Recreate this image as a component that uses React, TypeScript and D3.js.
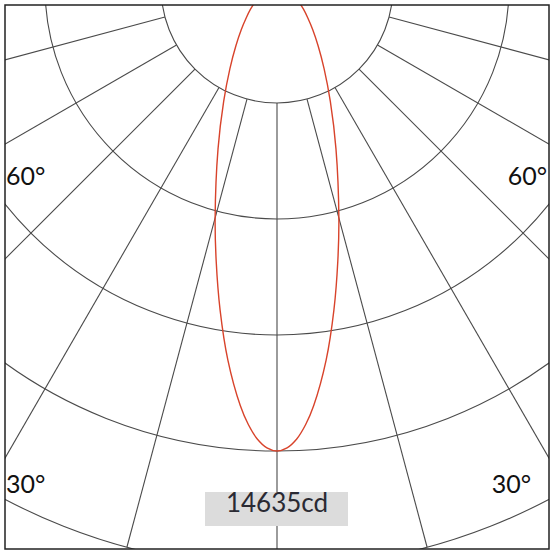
import React, { useEffect, useRef } from 'react';
import * as d3 from 'd3';

// luminous intensity (cd), symmetric about 0°
const angles = [0, 1.25, 2.5, 3.75, 5, 7.5, 10, 12.5, 15, 20, 25, 30, 35, 40, 45, 50, 55, 60, 65, 70, 75, 80, 85, 90];
const intensity = [14635, 14540, 14270, 13830, 13260, 11870, 10340, 8860, 7540, 5440, 3980, 2970, 2260, 1750, 1370, 1090, 860, 680, 530, 400, 290, 190, 90, 0];
const peakLabel = '14635cd';

// grid
const ringCount = 5;
const peakRing = 4;
const spokeAngles = [-75, -60, -45, -30, -15, 0, 15, 30, 45, 60, 75];
const angleLabels = ['60°', '30°'];

const W = 555;
const H = 555;
const FRAME = { x0: 5, y0: 5, x1: 549, y1: 549 };
const origin = { x: 277, y: -13 };
const ringStep = 116;

export default function App() {
  const svgRef = useRef<SVGSVGElement>(null);

  useEffect(() => {
    if (!svgRef.current) return;
    const svg = d3.select(svgRef.current);
    svg.selectAll('*').remove();

    const rScale = d3.scaleLinear().domain([0, intensity[0]]).range([0, peakRing * ringStep]);

    // angle from downward vertical -> d3 radial angle
    const toRad = (deg: number) => Math.PI - (deg * Math.PI) / 180;
    const polar = (deg: number, r: number) => [
      origin.x + r * Math.sin((deg * Math.PI) / 180),
      origin.y + r * Math.cos((deg * Math.PI) / 180),
    ];

    svg.append('defs')
      .append('clipPath')
      .attr('id', 'frame-clip')
      .append('rect')
      .attr('x', FRAME.x0)
      .attr('y', FRAME.y0)
      .attr('width', FRAME.x1 - FRAME.x0)
      .attr('height', FRAME.y1 - FRAME.y0);

    const g = svg.append('g').attr('clip-path', 'url(#frame-clip)');

    // rings
    const rings = d3.range(1, ringCount + 1).map(i => i * ringStep);
    g.selectAll('circle.ring')
      .data(rings)
      .enter()
      .append('circle')
      .attr('class', 'ring')
      .attr('cx', origin.x)
      .attr('cy', origin.y)
      .attr('r', d => d)
      .attr('fill', 'none')
      .attr('stroke', '#4a4a4a')
      .attr('stroke-width', 1.1);

    // spokes, from inner ring to outer ring
    g.selectAll('line.spoke')
      .data(spokeAngles)
      .enter()
      .append('line')
      .attr('class', 'spoke')
      .attr('x1', d => polar(d, rings[0])[0])
      .attr('y1', d => polar(d, rings[0])[1])
      .attr('x2', d => polar(d, rings[ringCount - 1])[0])
      .attr('y2', d => polar(d, rings[ringCount - 1])[1])
      .attr('stroke', '#4a4a4a')
      .attr('stroke-width', 1.1);

    // curve
    const pts: [number, number][] = [];
    for (let i = angles.length - 1; i > 0; i--) pts.push([-angles[i], intensity[i]]);
    angles.forEach((a, i) => pts.push([a, intensity[i]]));

    const line = d3.lineRadial<[number, number]>()
      .angle(d => toRad(d[0]))
      .radius(d => rScale(d[1]))
      .curve(d3.curveCatmullRom.alpha(0.5));

    g.append('path')
      .attr('transform', `translate(${origin.x},${origin.y})`)
      .attr('d', line(pts) as string)
      .attr('fill', 'none')
      .attr('stroke', '#d8432b')
      .attr('stroke-width', 1.4);

    // angle labels
    const font = 'Lato, "Open Sans", sans-serif';
    const labelPos = [
      { x: 6, y: 185, anchor: 'start', text: angleLabels[0] },
      { x: 547, y: 185, anchor: 'end', text: angleLabels[0] },
      { x: 6, y: 493, anchor: 'start', text: angleLabels[1] },
      { x: 531, y: 493, anchor: 'end', text: angleLabels[1] },
    ];
    svg.selectAll('text.angle')
      .data(labelPos)
      .enter()
      .append('text')
      .attr('class', 'angle')
      .attr('x', d => d.x)
      .attr('y', d => d.y)
      .attr('text-anchor', d => d.anchor)
      .attr('font-family', font)
      .attr('font-size', 25)
      .attr('fill', '#111')
      .text(d => d.text);

    // peak label
    svg.append('rect')
      .attr('x', 205)
      .attr('y', 492)
      .attr('width', 143)
      .attr('height', 34)
      .attr('fill', '#dcdcdc');

    svg.append('text')
      .attr('x', 277)
      .attr('y', 512)
      .attr('text-anchor', 'middle')
      .attr('font-family', font)
      .attr('font-size', 26)
      .attr('fill', '#2a2a33')
      .text(peakLabel);

    // frame
    svg.append('rect')
      .attr('x', FRAME.x0)
      .attr('y', FRAME.y0)
      .attr('width', FRAME.x1 - FRAME.x0)
      .attr('height', FRAME.y1 - FRAME.y0)
      .attr('fill', 'none')
      .attr('stroke', '#222')
      .attr('stroke-width', 1.5);
  }, []);

  return (
    <svg
      ref={svgRef}
      width={W}
      height={H}
      style={{ position: 'fixed', left: 0, top: 0, background: '#fff' }}
    />
  );
}
